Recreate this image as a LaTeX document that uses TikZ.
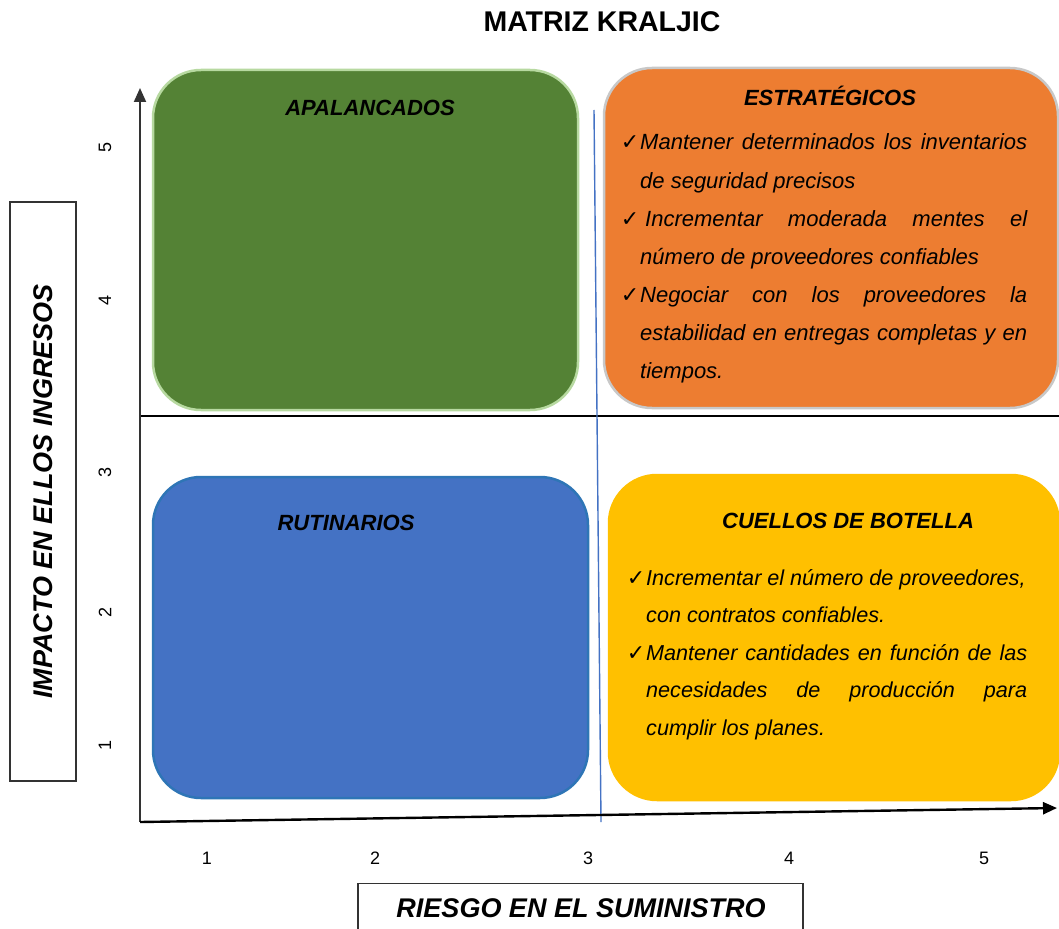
\documentclass[tikz,border=0pt]{standalone}
\usepackage{fontspec}
\usepackage{graphicx}
\setmainfont{Liberation Sans}
\newfontfamily\checkfont{DejaVu Sans}
\usetikzlibrary{arrows.meta}

\definecolor{kgreen}{HTML}{548235}
\definecolor{kgreenrim}{HTML}{B7D9A0}
\definecolor{korange}{HTML}{ED7D31}
\definecolor{korangerim}{HTML}{C8C8C8}
\definecolor{kblue}{HTML}{4472C4}
\definecolor{kbluerim}{HTML}{2E75B6}
\definecolor{kyellow}{HTML}{FFC000}
\definecolor{kline}{HTML}{4472C4}

\newcommand{\tick}{\leavevmode\llap{{\checkfont\fontsize{22}{24}\selectfont ✓}\hspace{1pt}}}
\newcommand{\fillline}[2]{\makebox[#1][s]{#2}}

\tikzset{
  quad/.style={rectangle, rounded corners=48pt, line width=2.5pt},
  quadtitle/.style={font=\fontsize{22}{26}\selectfont\bfseries\itshape, inner sep=0pt},
  bodytext/.style={anchor=base west, inner sep=0pt, align=left},
  axislabel/.style={draw=black!80, line width=1.3pt, inner sep=0pt,
    font=\fontsize{27}{30}\selectfont\bfseries\itshape},
  ticklabel/.style={font=\fontsize{18}{20}\selectfont, inner sep=0pt},
  axis/.style={line width=2.4pt, -{Triangle[length=14pt,width=12pt]}},
}

\begin{document}
\begin{tikzpicture}[x=1pt,y=-1pt]
\clip (0,0) rectangle (1059,928);
\fill[white] (0,0) rectangle (1059,928);

% title
\node[font=\fontsize{28.5}{32}\selectfont\bfseries, inner sep=0pt] (title) at (602,22) {MATRIZ KRALJIC};

% quadrant dividers
\coordinate (hl) at (140,416);
\coordinate (hr) at (1059,416);
\draw[line width=2.6pt, black] (hl) -- (hr);
\coordinate (vt) at (594,110);
\coordinate (vb) at (601,822);
\draw[line width=1.4pt, kline] (vt) -- (vb);

% axes
\coordinate (origin) at (140,822);
\coordinate (ytop) at (140,88);
\coordinate (xend) at (1057,808);
\draw[axis, black!80, line width=2pt] (origin) -- (ytop);
\draw[axis, black] (origin) -- (xend);

% quadrants
\node[quad, fill=kgreen, draw=kgreenrim, minimum width=425pt, minimum height=340pt] (apal) at (365.5,240) {};
\node[quad, fill=korange, draw=korangerim, minimum width=454pt, minimum height=340pt] (estr) at (831,238) {};
\node[quad, fill=kblue, draw=kbluerim, minimum width=435pt, minimum height=321pt] (rutin) at (370.5,637.5) {};
\node[quad, fill=kyellow, draw=kyellow, minimum width=450pt, minimum height=325pt] (cuel) at (834,637.5) {};

% quadrant titles
\node[quadtitle] (apalT) at (370,108) {APALANCADOS};
\node[quadtitle] (estrT) at (830,96) {ESTRATÉGICOS};
\node[quadtitle] (rutinT) at (346,523) {RUTINARIOS};
\node[quadtitle] (cuelT) at (848,521) {CUELLOS DE BOTELLA};

% strategic items
\node[bodytext] (estrB) at (640,150) {\parbox[t]{387pt}{\fontsize{22}{38}\selectfont\itshape
\tick\fillline{387pt}{Mantener determinados los inventarios}\\
de seguridad precisos\\
\tick\hspace{5pt}\fillline{382pt}{Incrementar moderada mentes el}\\
número de proveedores confiables\\
\tick\fillline{387pt}{Negociar con los proveedores la}\\
\fillline{387pt}{estabilidad en entregas completas y en}\\
tiempos.}};

% bottleneck items
\node[bodytext] (cuelB) at (646,585) {\parbox[t]{381pt}{\fontsize{21.6}{37.5}\selectfont\itshape
\tick Incrementar el número de proveedores,\\
con contratos confiables.\\
\tick\fillline{381pt}{Mantener cantidades en función de las}\\
\fillline{381pt}{necesidades de producción para}\\
cumplir los planes.}};

% axis ticks
\foreach \n/\y in {5/147,4/300,3/472,2/612,1/745}
  \node[ticklabel, rotate=90] (yt\n) at (105,\y) {\n};
\foreach \n/\x in {1/207,2/375,3/588,4/789,5/984}
  \node[ticklabel] (xt\n) at (\x,858) {\n};

% axis titles
\node[axislabel, rotate=90, minimum width=579pt, minimum height=66pt] (ylab) at (43,491.5) {IMPACTO EN ELLOS INGRESOS};
\node[axislabel, minimum width=445pt, minimum height=56pt, anchor=north] (xlab) at (580.5,883) {};
\node[font=\fontsize{27}{30}\selectfont\bfseries\itshape, inner sep=0pt] (xlabT) at (581,908) {RIESGO EN EL SUMINISTRO};
\end{tikzpicture}
\end{document}
